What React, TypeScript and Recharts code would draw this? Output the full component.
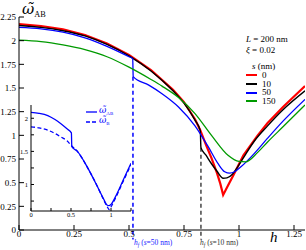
import { LineChart, Line, XAxis, YAxis, ReferenceLine } from "recharts";

const FONT = "'Liberation Serif', 'DejaVu Serif', serif";

const xTicks = [0, 0.25, 0.5, 0.75, 1, 1.25];
const yTicks = [0, 0.25, 0.5, 0.75, 1, 1.25, 1.5, 1.75, 2, 2.25];
const insetXTicks = [0, 0.25, 0.5, 0.75, 1, 1.25];
const insetYTicks = [0.75, 1, 1.25, 1.5, 1.75, 2];

// s = 0 nm
const s0H = [0, 0.1, 0.2, 0.3, 0.4, 0.5, 0.6, 0.7, 0.75, 0.8, 0.823, 0.85, 0.875, 0.9, 0.915, 0.928, 0.95, 0.975, 1.02, 1.085, 1.13, 1.2, 1.3];
const s0W = [2.175, 2.155, 2.12, 2.06, 1.97, 1.85, 1.69, 1.48, 1.35, 1.17, 1.06, 0.9, 0.76, 0.6, 0.49, 0.37, 0.47, 0.58, 0.79, 1.0, 1.13, 1.3, 1.52];

// s = 10 nm
const s10H = [0, 0.1, 0.2, 0.3, 0.4, 0.5, 0.6, 0.7, 0.75, 0.8, 0.824, 0.827, 0.85, 0.875, 0.9, 0.928, 0.945, 0.97, 0.995, 1.03, 1.07, 1.13, 1.2, 1.3];
const s10W = [2.16, 2.14, 2.105, 2.05, 1.96, 1.84, 1.68, 1.47, 1.34, 1.16, 1.05, 0.87, 0.79, 0.7, 0.62, 0.546, 0.55, 0.59, 0.67, 0.8, 0.94, 1.1, 1.27, 1.47];

// s = 50 nm
const s50H = [0, 0.1, 0.2, 0.3, 0.4, 0.5, 0.517, 0.519, 0.59, 0.65, 0.725, 0.8, 0.86, 0.905, 0.935, 0.958, 0.98, 1.01, 1.07, 1.13, 1.2, 1.3];
const s50W = [2.14, 2.125, 2.09, 2.03, 1.94, 1.83, 1.81, 1.62, 1.53, 1.44, 1.3, 1.1, 0.88, 0.7, 0.615, 0.6, 0.615, 0.67, 0.81, 0.97, 1.15, 1.38];

// s = 150 nm
const s150H = [0, 0.1, 0.2, 0.3, 0.4, 0.5, 0.6, 0.65, 0.725, 0.8, 0.875, 0.95, 1.0, 1.03, 1.085, 1.13, 1.2, 1.3];
const s150W = [2.005, 1.99, 1.955, 1.905, 1.83, 1.72, 1.59, 1.52, 1.4, 1.23, 1.0, 0.79, 0.725, 0.72, 0.82, 0.93, 1.09, 1.32];

// inset: omega_AB and omega_B
const abH = [0, 0.1, 0.21, 0.3, 0.37, 0.45, 0.505, 0.51, 0.58, 0.7, 0.83, 0.9, 0.95, 0.975, 1.0, 1.07, 1.15, 1.25];
const abW = [2.09, 2.075, 2.04, 1.98, 1.92, 1.84, 1.78, 1.57, 1.5, 1.27, 0.97, 0.8, 0.69, 0.68, 0.7, 0.85, 1.06, 1.32];
const bH = [0, 0.1, 0.21, 0.3, 0.37, 0.45, 0.51, 0.58, 0.7, 0.83, 0.9, 0.95, 0.98, 1.0, 1.07, 1.15, 1.25];
const bW = [1.87, 1.855, 1.82, 1.77, 1.72, 1.66, 1.58, 1.5, 1.27, 0.97, 0.79, 0.67, 0.62, 0.66, 0.83, 1.04, 1.3];

// jump positions h_f
const hf50 = 0.518;
const hf50Top = 1.62;
const hf10 = 0.827;
const hf10Top = 0.87;

const zip = (hs: number[], ws: number[]) => hs.map((h, i) => ({ h, w: ws[i] }));

const series = [
  { name: "0", color: "#ff0000", width: 2.2, curve: "linear", data: zip(s0H, s0W) },
  { name: "10", color: "#000000", width: 1.4, curve: "monotone", data: zip(s10H, s10W) },
  { name: "50", color: "#0000ff", width: 1.3, curve: "monotone", data: zip(s50H, s50W) },
  { name: "150", color: "#009a00", width: 1.3, curve: "monotone", data: zip(s150H, s150W) },
];

const tickStyle = { fontSize: 9, fill: "#000", fontFamily: FONT };
const insetTickStyle = { fontSize: 6.5, fill: "#000", fontFamily: FONT };

function Omega({ sub, size }: { sub: string; size: number }) {
  return (
    <span style={{ whiteSpace: "nowrap" }}>
      <span style={{ fontStyle: "italic", fontSize: size, fontFamily: "'DejaVu Serif', serif" }}>ω̃</span>
      <span style={{ fontSize: size * 0.55, verticalAlign: "-0.35em" }}>{sub}</span>
    </span>
  );
}

function HfLabel({ s, color, left }: { s: string; color: string; left: number }) {
  return (
    <div style={{ position: "absolute", left, top: 238, fontSize: 7.5, lineHeight: "9px", color, whiteSpace: "nowrap" }}>
      <span style={{ fontStyle: "italic" }}>h</span>
      <span style={{ fontStyle: "italic", fontSize: 5.5, verticalAlign: "-0.3em" }}>f</span> (
      <span style={{ fontStyle: "italic" }}>s</span>={s} nm)
    </div>
  );
}

export default function App() {
  return (
    <div style={{ position: "absolute", left: 0, top: 0, width: 306, height: 250, fontFamily: FONT, background: "#fff", overflow: "hidden" }}>
      <LineChart width={306} height={250} margin={{ top: 17, right: 1, bottom: 0, left: 0 }}>
        <XAxis
          type="number"
          dataKey="h"
          domain={[0, 1.3]}
          ticks={xTicks}
          allowDataOverflow
          height={20}
          tickSize={-5}
          tickMargin={6}
          tick={tickStyle}
          stroke="#000"
          interval={0}
        />
        <XAxis
          xAxisId="top"
          orientation="top"
          type="number"
          domain={[0, 1.3]}
          ticks={xTicks}
          allowDataOverflow
          height={0}
          tickSize={-5}
          tick={false}
          stroke="#000"
        />
        <YAxis
          type="number"
          domain={[0, 2.25]}
          ticks={yTicks}
          allowDataOverflow
          width={19}
          tickSize={-5}
          tickMargin={8}
          tick={tickStyle}
          stroke="#000"
          interval={0}
        />
        <YAxis
          yAxisId="right"
          orientation="right"
          type="number"
          domain={[0, 2.25]}
          ticks={yTicks}
          allowDataOverflow
          width={0}
          tickSize={-5}
          tick={false}
          stroke="#000"
        />
        <ReferenceLine
          segment={[{ x: hf50, y: hf50Top }, { x: hf50, y: -0.1 }]}
          stroke="#0000ff"
          strokeWidth={1.5}
          strokeDasharray="4 3"
          ifOverflow="visible"
        />
        <ReferenceLine
          segment={[{ x: hf10, y: hf10Top }, { x: hf10, y: -0.1 }]}
          stroke="#444"
          strokeWidth={1.5}
          strokeDasharray="4 3"
          ifOverflow="visible"
        />
        {series.map((s) => (
          <Line
            key={s.name}
            name={s.name}
            data={s.data}
            dataKey="w"
            type={s.curve as "linear" | "monotone"}
            stroke={s.color}
            strokeWidth={s.width}
            dot={false}
            isAnimationActive={false}
          />
        ))}
      </LineChart>

      {/* inset */}
      <div style={{ position: "absolute", left: 17, top: 104 }}>
        <LineChart width={115} height={119} margin={{ top: 1, right: 1, bottom: 0, left: 0 }}>
          <rect x={31 - 17} y={1} width={100} height={106} fill="#fff" />
          <XAxis
            type="number"
            dataKey="h"
            domain={[0, 1.25]}
            ticks={insetXTicks}
            allowDataOverflow
            height={12}
            tickSize={-3}
            tickMargin={4}
            tick={insetTickStyle}
            tickFormatter={(v: number) => (v * 2 === Math.round(v * 2) ? String(v) : "")}
            stroke="#000"
            interval={0}
          />
          <XAxis
            xAxisId="top"
            orientation="top"
            type="number"
            domain={[0, 1.25]}
            ticks={insetXTicks}
            allowDataOverflow
            height={0}
            tickSize={-3}
            tick={false}
            stroke="#000"
          />
          <YAxis
            type="number"
            domain={[0.6, 2.2]}
            ticks={insetYTicks}
            allowDataOverflow
            width={14}
            tickSize={-3}
            tickMargin={6}
            tick={insetTickStyle}
            tickFormatter={(v: number) => (v * 2 === Math.round(v * 2) ? String(v) : "")}
            stroke="#000"
            interval={0}
          />
          <YAxis
            yAxisId="right"
            orientation="right"
            type="number"
            domain={[0.6, 2.2]}
            ticks={insetYTicks}
            allowDataOverflow
            width={0}
            tickSize={-3}
            tick={false}
            stroke="#000"
          />
          <Line data={zip(abH, abW)} dataKey="w" type="monotone" stroke="#0000ff" strokeWidth={1.3} dot={false} isAnimationActive={false} />
          <Line data={zip(bH, bW)} dataKey="w" type="monotone" stroke="#0000ff" strokeWidth={1.3} strokeDasharray="4 2.5" dot={false} isAnimationActive={false} />
        </LineChart>
      </div>

      {/* inset legend */}
      <div style={{ position: "absolute", left: 86, top: 107, color: "#0000ff", fontSize: 8, lineHeight: "10px" }}>
        {[{ sub: "AB", dash: undefined }, { sub: "B", dash: "4 2" }].map((e) => (
          <div key={e.sub} style={{ display: "flex", alignItems: "center", height: 10 }}>
            <svg width={11} height={4} style={{ marginRight: 2 }}>
              <line x1={0} y1={2} x2={11} y2={2} stroke="#0000ff" strokeWidth={1.3} strokeDasharray={e.dash} />
            </svg>
            <Omega sub={e.sub} size={9} />
          </div>
        ))}
      </div>

      {/* main legend */}
      <div style={{ position: "absolute", left: 246, top: 34, fontSize: 9, lineHeight: "11px", color: "#000" }}>
        <div>
          <i>L</i> = 200 nm
        </div>
        <div>
          <i>ξ</i> = 0.02
        </div>
        <div style={{ marginTop: 6, marginLeft: 6, lineHeight: "9px" }}>
          <i>s</i> (nm)
        </div>
        {series.map((s) => (
          <div key={s.name} style={{ display: "flex", alignItems: "center", height: 8.7, lineHeight: "9px" }}>
            <svg width={11} height={4} style={{ marginRight: 5 }}>
              <line x1={0} y1={2} x2={11} y2={2} stroke={s.color} strokeWidth={2} />
            </svg>
            <span>{s.name}</span>
          </div>
        ))}
      </div>

      {/* axis titles */}
      <div style={{ position: "absolute", left: 22, top: 0, lineHeight: "17px", color: "#000" }}>
        <Omega sub="AB" size={15} />
      </div>
      <div style={{ position: "absolute", left: 270, top: 229, fontSize: 15, fontStyle: "italic" }}>h</div>

      <HfLabel s="50" color="#1a1aff" left={134} />
      <HfLabel s="10" color="#333" left={200} />
    </div>
  );
}
